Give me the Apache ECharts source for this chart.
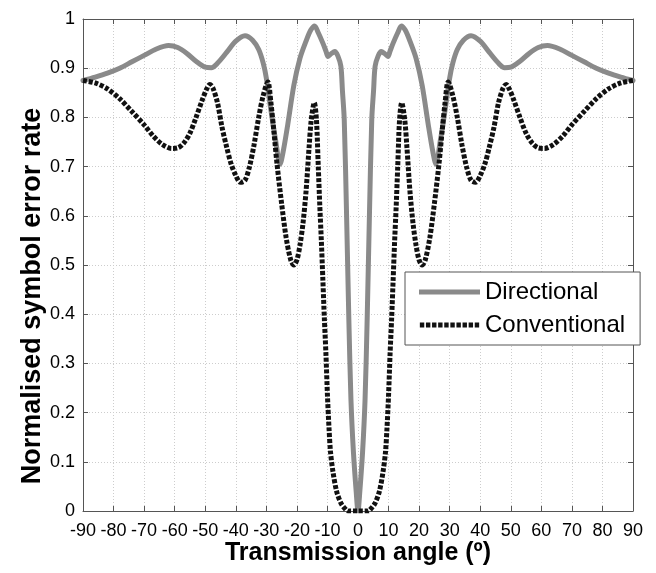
<!DOCTYPE html>
<html>
<head>
<meta charset="utf-8">
<script src="https://cdn.jsdelivr.net/npm/echarts@6/dist/echarts.min.js"></script>
<style>
  html, body { margin: 0; padding: 0; background: #fff; }
  #chart { width: 656px; height: 573px; }
</style>
</head>
<body>
<div id="chart"></div>
<script>
// Normalised symbol error rate versus transmission angle (degrees)
const xTicks = [-90, -80, -70, -60, -50, -40, -30, -20, -10, 0, 10, 20, 30, 40, 50, 60, 70, 80, 90];
const yTicks = [0, 0.1, 0.2, 0.3, 0.4, 0.5, 0.6, 0.7, 0.8, 0.9, 1];

const directionalAngle = [
  -90, -86, -82, -78, -74, -70, -66, -62, -59, -56, -53, -50, -48, -46, -43, -40, -37,
  -34.5, -32.5, -31, -30, -28.5, -27, -25.5, -24.5, -23, -21, -19, -17, -15.5, -14.2,
  -13, -11.5, -10.5, -9.8, -8.7, -7.6, -6.6, -5.6, -5.1, -4.5, -3.7, -3.0, -2.3, -1.5, -0.6, 0,
  0.6, 1.5, 2.3, 3.0, 3.7, 4.5, 5.1, 5.6, 6.6, 7.6, 8.7, 9.8, 10.5, 11.5, 13,
  14.2, 15.5, 17, 19, 21, 23, 24.5, 25.5, 27, 28.5, 30, 31, 32.5, 34.5,
  37, 40, 43, 46, 48, 50, 53, 56, 59, 62, 66, 70, 74, 78, 82, 86, 90
];
const directionalRate = [
  0.875, 0.882, 0.890, 0.900, 0.913, 0.926, 0.939, 0.946, 0.942, 0.930, 0.914, 0.902, 0.901, 0.910, 0.932, 0.955, 0.966,
  0.957, 0.938, 0.910, 0.880, 0.815, 0.755, 0.705, 0.730, 0.785, 0.865, 0.920, 0.955, 0.977, 0.986,
  0.972, 0.951, 0.935, 0.924, 0.930, 0.934, 0.925, 0.904, 0.855, 0.795, 0.590, 0.390, 0.225, 0.120, 0.040, 0.000,
  0.040, 0.120, 0.225, 0.390, 0.590, 0.795, 0.855, 0.904, 0.925, 0.934, 0.930, 0.924, 0.935, 0.951, 0.972,
  0.986, 0.977, 0.955, 0.920, 0.865, 0.785, 0.730, 0.705, 0.755, 0.815, 0.880, 0.910, 0.938, 0.957,
  0.966, 0.955, 0.932, 0.910, 0.901, 0.902, 0.914, 0.930, 0.942, 0.946, 0.939, 0.926, 0.913, 0.900, 0.890, 0.882, 0.875
];

const conventionalAngle = [
  -90, -86, -82, -78, -74, -70, -67, -64, -61, -59, -57, -55, -53, -51, -49.5, -48.5, -47.5,
  -46, -44.5, -43, -41.5, -40, -38.5, -37, -35.5, -34, -32.5, -31, -29.5, -28.5, -27.5, -26.5,
  -25, -23.5, -22, -21, -20, -19, -18, -17, -16, -15.3, -14.3, -13.6, -13, -12.5, -12, -11.5,
  -11, -10.5, -10, -9.5, -9, -8.2, -7, -5.5, -4, -3.3, 0,
  3.3, 4, 5.5, 7, 8.2, 9, 9.5, 10, 10.5, 11,
  11.5, 12, 12.5, 13, 13.6, 14.3, 15.3, 16, 17, 18, 19, 20, 21, 22, 23.5, 25,
  26.5, 27.5, 28.5, 29.5, 31, 32.5, 34, 35.5, 37, 38.5, 40, 41.5, 43, 44.5, 46,
  47.5, 48.5, 49.5, 51, 53, 55, 57, 59, 61, 64, 67, 70, 74, 78, 82, 86, 90
];
const conventionalRate = [
  0.875, 0.870, 0.858, 0.838, 0.812, 0.785, 0.762, 0.745, 0.737, 0.738, 0.748, 0.768, 0.800, 0.835, 0.858, 0.867, 0.860,
  0.830, 0.780, 0.740, 0.705, 0.682, 0.668, 0.672, 0.700, 0.745, 0.800, 0.845, 0.872, 0.830, 0.770, 0.705,
  0.625, 0.555, 0.510, 0.500, 0.510, 0.540, 0.585, 0.650, 0.740, 0.795, 0.830, 0.795, 0.700, 0.620, 0.550, 0.470,
  0.390, 0.320, 0.235, 0.170, 0.120, 0.080, 0.040, 0.015, 0.003, 0.000, 0.000,
  0.000, 0.003, 0.015, 0.040, 0.080, 0.120, 0.170, 0.235, 0.320, 0.390,
  0.470, 0.550, 0.620, 0.700, 0.795, 0.830, 0.795, 0.740, 0.650, 0.585, 0.540, 0.510, 0.500, 0.510, 0.555, 0.625,
  0.705, 0.770, 0.830, 0.872, 0.845, 0.800, 0.745, 0.700, 0.672, 0.668, 0.682, 0.705, 0.740, 0.780, 0.830,
  0.860, 0.867, 0.858, 0.835, 0.800, 0.768, 0.748, 0.738, 0.737, 0.745, 0.762, 0.785, 0.812, 0.838, 0.858, 0.870, 0.875
];

const pairs = (xs, ys) => xs.map((x, i) => [x, ys[i]]);

const FONT = 'Arial, "Liberation Sans", Helvetica, sans-serif';
const AXIS_COLOR = '#555555';
const GRID_STYLE = { color: '#cdcdcd', width: 1, type: [1, 2] };
const GREY = '#8a8a8a';
const DARK = '#111111';

// Legend keys: a solid bar, and a row of square dots for the dotted line
const solidKey = 'path://M0,0H61V5H0Z';
const dottedKey = 'path://' + Array.from({ length: 10 }, (_, i) =>
  'M' + (i * 6.1) + ',0h4.4v5h-4.4Z').join('');

const chart = echarts.init(document.getElementById('chart'), null, { renderer: 'canvas' });

chart.setOption({
  animation: false,
  backgroundColor: '#ffffff',
  grid: { left: 83, right: 23, top: 19, bottom: 62, containLabel: false, outerBoundsMode: 'none' },
  xAxis: [
    {
      type: 'value', min: xTicks[0], max: xTicks[xTicks.length - 1], interval: 10,
      name: 'Transmission angle (º)', nameLocation: 'middle', nameGap: 30,
      nameMoveOverlap: false,
      nameTextStyle: { fontFamily: FONT, fontWeight: 'bold', fontSize: 25, color: '#000' },
      axisLine: { show: true, onZero: false, lineStyle: { color: AXIS_COLOR, width: 1 } },
      axisTick: { show: true, inside: true, length: 5, lineStyle: { color: AXIS_COLOR } },
      axisLabel: { fontFamily: FONT, fontSize: 18, color: '#000', margin: 11 },
      splitLine: { show: true, lineStyle: GRID_STYLE }
    },
    {
      type: 'value', position: 'top', min: xTicks[0], max: xTicks[xTicks.length - 1], interval: 10,
      axisLine: { show: true, onZero: false, lineStyle: { color: AXIS_COLOR, width: 1 } },
      axisTick: { show: true, inside: true, length: 5, lineStyle: { color: AXIS_COLOR } },
      axisLabel: { show: false }, splitLine: { show: false }
    }
  ],
  yAxis: [
    {
      type: 'value', min: yTicks[0], max: yTicks[yTicks.length - 1], interval: 0.1,
      name: 'Normalised symbol error rate', nameLocation: 'middle', nameGap: 37,
      nameMoveOverlap: false,
      nameTextStyle: { fontFamily: FONT, fontWeight: 'bold', fontSize: 27, color: '#000',
        padding: [0, 62, 0, 0] },
      axisLine: { show: true, onZero: false, lineStyle: { color: AXIS_COLOR, width: 1 } },
      axisTick: { show: true, inside: true, length: 5, lineStyle: { color: AXIS_COLOR } },
      axisLabel: { fontFamily: FONT, fontSize: 18, color: '#000', margin: 8,
        formatter: v => String(Math.round(v * 10) / 10) },
      splitLine: { show: true, lineStyle: GRID_STYLE }
    },
    {
      type: 'value', position: 'right', min: yTicks[0], max: yTicks[yTicks.length - 1], interval: 0.1,
      axisLine: { show: true, onZero: false, lineStyle: { color: AXIS_COLOR, width: 1 } },
      axisTick: { show: true, inside: true, length: 5, lineStyle: { color: AXIS_COLOR } },
      axisLabel: { show: false }, splitLine: { show: false }
    }
  ],
  legend: {
    orient: 'vertical',
    left: 405, top: 272,
    padding: [8, 15, 8, 14],
    itemGap: 9,
    itemWidth: 61, itemHeight: 5,
    backgroundColor: '#ffffff',
    borderColor: '#555555', borderWidth: 1,
    textStyle: { fontFamily: FONT, fontSize: 24, color: '#000' },
    data: [
      { name: 'Directional', icon: solidKey, itemStyle: { color: GREY } },
      { name: 'Conventional', icon: dottedKey, itemStyle: { color: DARK } }
    ]
  },
  series: [
    {
      name: 'Directional', type: 'line', xAxisIndex: 0, yAxisIndex: 0,
      data: pairs(directionalAngle, directionalRate),
      showSymbol: false, symbol: 'none', smooth: 0.3,
      itemStyle: { color: GREY },
      lineStyle: { color: GREY, width: 5, cap: 'round', join: 'round' },
      z: 2
    },
    {
      name: 'Conventional', type: 'line', xAxisIndex: 0, yAxisIndex: 0,
      data: pairs(conventionalAngle, conventionalRate),
      showSymbol: false, symbol: 'none', smooth: 0.3,
      itemStyle: { color: DARK },
      lineStyle: { color: DARK, width: 5, type: [4, 1.8], cap: 'butt' },
      z: 3
    }
  ]
});
</script>
</body>
</html>
